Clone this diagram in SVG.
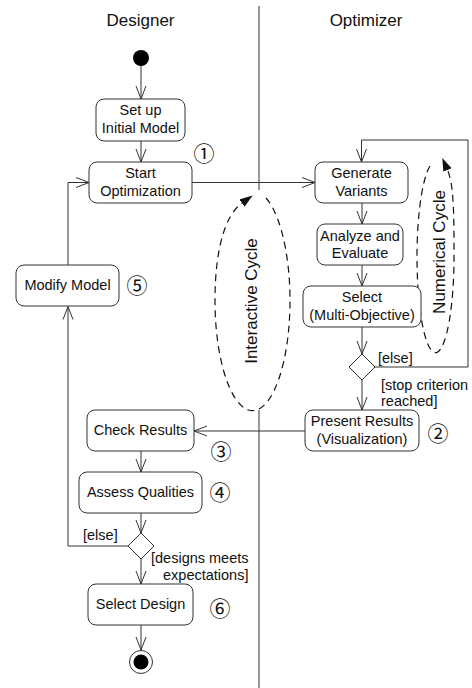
<svg xmlns="http://www.w3.org/2000/svg" width="472" height="688" viewBox="0 0 472 688">
<style>
.box{fill:#fff;stroke:#333;stroke-width:1}
.t{font-family:"Liberation Sans",Arial,sans-serif;font-size:14.5px;fill:#111;text-anchor:middle}
.l{font-family:"Liberation Sans",Arial,sans-serif;font-size:14.5px;fill:#111}
.h{font-family:"Liberation Sans",Arial,sans-serif;font-size:17px;fill:#111;text-anchor:middle}
.n{font-family:"Noto Sans CJK JP","DejaVu Sans",sans-serif;font-size:21px;fill:#111;text-anchor:middle}
.c{fill:none;stroke:#333;stroke-width:1}
.a{marker-end:url(#open)}
.cyc{fill:none;stroke:#111;stroke-width:1.2;stroke-dasharray:7 5;marker-end:url(#filled)}
</style>
<defs>
<marker id="open" markerUnits="userSpaceOnUse" viewBox="-14 -6 15 12" markerWidth="15" markerHeight="12" refX="0" refY="0" orient="auto">
<path d="M-13,-5 L0,0 L-13,5" fill="none" stroke="#333" stroke-width="1"/>
</marker>
<marker id="filled" markerUnits="userSpaceOnUse" viewBox="0 -5 13 10" markerWidth="13" markerHeight="10" refX="0" refY="0" orient="auto">
<path d="M0,-4.5 L13,0 L0,4.5 z" fill="#111"/>
</marker>
</defs>

<g id="lanes">
<line x1="259" y1="6" x2="259" y2="190" class="c"/>
<line x1="259" y1="410" x2="259" y2="688" class="c"/>
<text class="h" x="140.5" y="26">Designer</text>
<text class="h" x="366" y="26">Optimizer</text>
</g>

<g id="connectors">
<line x1="141" y1="66" x2="141" y2="99" class="c a"/>
<line x1="141" y1="141" x2="141" y2="162" class="c a"/>
<line x1="192" y1="182.5" x2="315" y2="182.5" class="c a"/>
<line x1="362" y1="203" x2="362" y2="224" class="c a"/>
<line x1="362" y1="265" x2="362" y2="286" class="c a"/>
<line x1="362" y1="327" x2="362" y2="354" class="c a"/>
<line x1="362" y1="380" x2="362" y2="410" class="c a"/>
<path d="M375 367 H468 V140 H361.5 V162" class="c a"/>
<line x1="305" y1="431" x2="194" y2="431" class="c a"/>
<line x1="141" y1="451" x2="141" y2="472" class="c a"/>
<line x1="141" y1="513" x2="141" y2="533" class="c a"/>
<line x1="141" y1="559" x2="141" y2="584" class="c a"/>
<path d="M128 546 H68 V306.5" class="c a"/>
<path d="M68 265 V182.5 H89" class="c a"/>
<line x1="141" y1="625" x2="141" y2="650" class="c a"/>
<text class="l" x="378" y="362.5">[else]</text>
<text class="l" x="381" y="389.5">[stop criterion</text>
<text class="l" x="381" y="406">reached]</text>
<text class="l" x="83" y="540">[else]</text>
<text class="l" x="151" y="563">[designs meets</text>
<text class="l" x="163" y="580">expectations]</text>
</g>

<g id="interactive-cycle">
<path d="M266 198 A37.5 110 0 1 1 215 300 C215 250 225 215 242 203" class="cyc"/>
<text class="h" transform="translate(257 301) rotate(-90)" x="0" y="0">Interactive Cycle</text>
</g>

<g id="numerical-cycle">
<path d="M430 166 A18.5 95.5 0 1 0 454 257.5 C454 215 454 185 447.5 170" class="cyc"/>
<text class="h" transform="translate(445 252) rotate(-90)" x="0" y="0">Numerical Cycle</text>
</g>

<g id="initial"><circle cx="141" cy="58" r="8" fill="#000"/></g>

<g id="setup">
<rect class="box" x="96" y="99" width="89" height="42" rx="8"/>
<text class="t" x="140.5" y="115">Set up</text>
<text class="t" x="140.5" y="132.5">Initial Model</text>
</g>

<g id="start">
<rect class="box" x="89" y="162" width="103" height="41" rx="8"/>
<text class="t" x="140.5" y="178">Start</text>
<text class="t" x="140.5" y="195.5">Optimization</text>
<text class="n" x="204" y="161">①</text>
</g>

<g id="generate">
<rect class="box" x="315" y="162" width="93" height="41" rx="8"/>
<text class="t" x="361.5" y="178">Generate</text>
<text class="t" x="361.5" y="195.5">Variants</text>
</g>

<g id="analyze">
<rect class="box" x="317" y="224" width="86" height="41" rx="8"/>
<text class="t" x="360" y="240.5">Analyze and</text>
<text class="t" x="360" y="257.5">Evaluate</text>
</g>

<g id="select">
<rect class="box" x="303" y="286" width="118" height="41" rx="8"/>
<text class="t" x="362" y="302">Select</text>
<text class="t" x="362" y="319.5">(Multi-Objective)</text>
</g>

<g id="decision1"><polygon class="box" points="362,354 375,367 362,380 349,367"/></g>

<g id="present">
<rect class="box" x="305" y="410" width="114" height="41" rx="8"/>
<text class="t" x="362" y="426">Present Results</text>
<text class="t" x="362" y="443.5">(Visualization)</text>
<text class="n" x="438" y="441">②</text>
</g>

<g id="check">
<rect class="box" x="87" y="410" width="107" height="41" rx="8"/>
<text class="t" x="140.5" y="435">Check Results</text>
<text class="n" x="221" y="459">③</text>
</g>

<g id="modify">
<rect class="box" x="16" y="265" width="103" height="41" rx="8"/>
<text class="t" x="67.5" y="290">Modify Model</text>
<text class="n" x="137" y="293">⑤</text>
</g>

<g id="assess">
<rect class="box" x="79" y="472" width="123" height="41" rx="8"/>
<text class="t" x="140.5" y="497">Assess Qualities</text>
<text class="n" x="220" y="500">④</text>
</g>

<g id="decision2"><polygon class="box" points="141,533 154,546 141,559 128,546"/></g>

<g id="selectdesign">
<rect class="box" x="88" y="584" width="105" height="41" rx="8"/>
<text class="t" x="140.5" y="609">Select Design</text>
<text class="n" x="220" y="616">⑥</text>
</g>

<g id="final">
<circle cx="141" cy="662" r="11.5" fill="#fff" stroke="#333" stroke-width="1"/>
<circle cx="141" cy="662" r="7.5" fill="#000"/>
</g>
</svg>
